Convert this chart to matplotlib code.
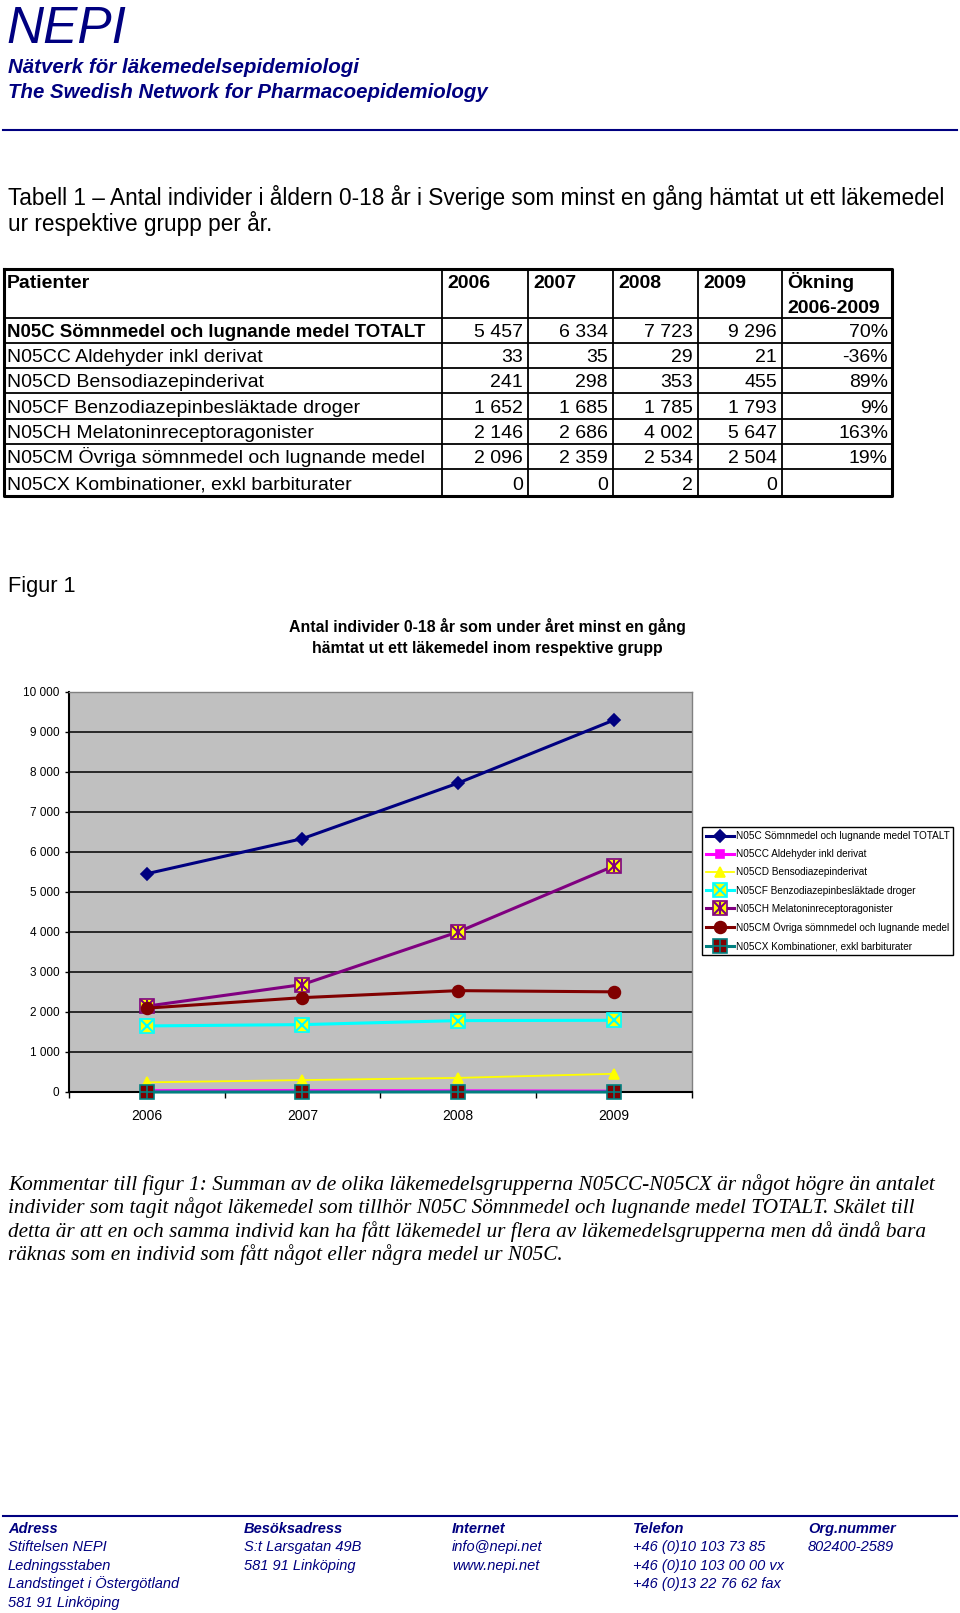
import numpy as np
import matplotlib
matplotlib.use("Agg")
import matplotlib.pyplot as plt
from matplotlib.ticker import FuncFormatter

# ── Data ──────────────────────────────────────────────────────────────────────
years = ["2006", "2007", "2008", "2009"]

groups = [
    "N05C Sömnmedel och lugnande medel TOTALT",
    "N05CC Aldehyder inkl derivat",
    "N05CD Bensodiazepinderivat",
    "N05CF Benzodiazepinbesläktade droger",
    "N05CH Melatoninreceptoragonister",
    "N05CM Övriga sömnmedel och lugnande medel",
    "N05CX Kombinationer, exkl barbiturater",
]
n05c  = [5457, 6334, 7723, 9296]
n05cc = [33, 35, 29, 21]
n05cd = [241, 298, 353, 455]
n05cf = [1652, 1685, 1785, 1793]
n05ch = [2146, 2686, 4002, 5647]
n05cm = [2096, 2359, 2534, 2504]
n05cx = [0, 0, 2, 0]
series = [n05c, n05cc, n05cd, n05cf, n05ch, n05cm, n05cx]

yticks = list(range(0, 10001, 1000))

comment_lines = [
    "Kommentar till figur 1: Summan av de olika läkemedelsgrupperna N05CC-N05CX är något högre än antalet",
    "individer som tagit något läkemedel som tillhör N05C Sömnmedel och lugnande medel TOTALT. Skälet till",
    "detta är att en och samma individ kan ha fått läkemedel ur flera av läkemedelsgrupperna men då ändå bara",
    "räknas som en individ som fått något eller några medel ur N05C.",
]

footer = [
    ("Adress", ["Stiftelsen NEPI", "Ledningsstaben", "Landstinget i Östergötland", "581 91 Linköping"]),
    ("Besöksadress", ["S:t Larsgatan 49B", "581 91 Linköping"]),
    ("Internet", ["info@nepi.net", "www.nepi.net"]),
    ("Telefon", ["+46 (0)10 103 73 85", "+46 (0)10 103 00 00 vx", "+46 (0)13 22 76 62 fax"]),
    ("Org.nummer", ["802400-2589"]),
]

# ── Setup ─────────────────────────────────────────────────────────────────────
W, H = 960, 1613
NAVY = "#000080"
SANS = "Liberation Sans"
SERIF = "Liberation Serif"


def fmt(v):
    return f"{v:,}".replace(",", " ")


fig = plt.figure(figsize=(W / 100, H / 100), dpi=100)

# page overlay in pixel coordinates (y downwards)
pg = fig.add_axes([0, 0, 1, 1])
pg.set_xlim(0, W)
pg.set_ylim(H, 0)
pg.axis("off")


def txt(x, y, s, size, **kw):
    kw.setdefault("family", SANS)
    kw.setdefault("va", "baseline")
    pg.text(x, y, s, fontsize=size, **kw)


# ── Header ────────────────────────────────────────────────────────────────────
txt(6, 43, "NEPI", 37, style="italic", color=NAVY)
txt(8, 73, "Nätverk för läkemedelsepidemiologi", 14.8, style="italic",
    weight="bold", color=NAVY)
txt(8, 98, "The Swedish Network for Pharmacoepidemiology", 14.7, style="italic",
    weight="bold", color=NAVY)
pg.plot([3, 957], [130, 130], color=NAVY, lw=1.5)

txt(8, 205, "Tabell 1 \u2013 Antal individer i åldern 0-18 år i Sverige som minst en gång "
    "hämtat ut ett läkemedel", 16.3)
txt(8, 231, "ur respektive grupp per år.", 16.3)

# ── Table ─────────────────────────────────────────────────────────────────────
col_x = [4, 442, 528, 613, 698, 782, 892]
row_y = [269, 318, 343, 368, 393, 419, 444, 469, 496]

for xx in col_x[1:-1]:
    pg.plot([xx, xx], [row_y[0], row_y[-1]], color="black", lw=1.3)
for yy in row_y[1:-1]:
    pg.plot([col_x[0], col_x[-1]], [yy, yy], color="black", lw=1.3)
pg.plot([col_x[0], col_x[-1], col_x[-1], col_x[0], col_x[0]],
        [row_y[0], row_y[0], row_y[-1], row_y[-1], row_y[0]],
        color="black", lw=2.2)

TF = 14
txt(7, 288, "Patienter", TF, weight="bold")
for i, yr in enumerate(years):
    txt(col_x[i + 1] + 5, 288, yr, TF, weight="bold")
txt(col_x[5] + 5, 288, "Ökning", TF, weight="bold")
txt(col_x[5] + 5, 313, f"{years[0]}-{years[-1]}", TF, weight="bold")

for r, (name, vals) in enumerate(zip(groups, series)):
    base = row_y[r + 2] - 6
    if r == 0:
        txt(7, base, name, 13.4, weight="bold")
    else:
        txt(7, base, name, TF)
    for i, v in enumerate(vals):
        txt(col_x[i + 2] - 5, base, fmt(v), TF, ha="right")
    if vals[0] > 0:
        pct = round((vals[-1] / vals[0] - 1) * 100)
        txt(col_x[-1] - 4, base, f"{pct}%", TF, ha="right")

# ── Figure 1 ──────────────────────────────────────────────────────────────────
txt(8, 592, "Figur 1", 15.7)
txt(487, 632, "Antal individer 0-18 år som under året minst en gång", 11.4,
    weight="bold", ha="center")
txt(487, 653, "hämtat ut ett läkemedel inom respektive grupp", 11.4,
    weight="bold", ha="center")

ax = fig.add_axes([69 / W, 1 - 1092 / H, 622.5 / W, 400 / H])
ax.set_facecolor("#c0c0c0")
ax.set_xlim(0, 4)
ax.set_ylim(0, 10000)
x = np.arange(len(years)) + 0.5

for v in yticks[1:-1]:
    ax.axhline(v, color="black", lw=1.1, zorder=0.5)

styles = [
    dict(color=NAVY, marker="D", ms=6.5, lw=2.2),
    dict(color="#ff00ff", marker="s", ms=6, lw=2.2),
    dict(color="#ffff00", marker="^", ms=7, lw=1.3),
    dict(color="#00ffff", marker="s", ms=10, lw=2.2, mfc="#ffff00", mec="#00ffff"),
    dict(color="#800080", marker="s", ms=10, lw=2.2, mfc="#ffff00", mec="#800080"),
    dict(color="#800000", marker="o", ms=8.5, lw=2.2),
    dict(color="#008080", marker="s", ms=10, lw=2.2, mfc="#800000", mec="#008080"),
]
overlays = [
    [], [], [],
    [dict(marker="x", ms=8, mew=1.5, color="#00ffff")],
    [dict(marker="x", ms=8, mew=1.5, color="#800080"),
     dict(marker="|", ms=9, mew=1.5, color="#800080")],
    [],
    [dict(marker="+", ms=10, mew=1.2, color="#008080")],
]

handles = []
for k, (vals, st, ov) in enumerate(zip(series, styles, overlays)):
    z = 3 + k
    (ln,) = ax.plot(x, vals, mew=1.2, zorder=z, clip_on=False, **st)
    parts = [ln]
    for o in ov:
        (m,) = ax.plot(x, vals, ls="none", zorder=z + 0.5, clip_on=False, **o)
        parts.append(m)
    handles.append(tuple(parts) if len(parts) > 1 else ln)

ax.set_yticks(yticks)
ax.yaxis.set_major_formatter(FuncFormatter(lambda v, p: fmt(int(v))))
ax.tick_params(axis="y", direction="out", length=3, width=1, pad=4,
               labelsize=8.5, color="black")
ax.set_xticks(x)
ax.set_xticklabels(years)
ax.set_xticks([0, 1, 2, 3, 4], minor=True)
ax.tick_params(axis="x", which="major", length=0, pad=12, labelsize=10)
ax.tick_params(axis="x", which="minor", direction="out", length=4, width=1)
for lab in ax.get_xticklabels() + ax.get_yticklabels():
    lab.set_family(SANS)

for s in ("left", "bottom"):
    ax.spines[s].set_color("black")
    ax.spines[s].set_linewidth(1.5)
for s in ("top", "right"):
    ax.spines[s].set_color("#808080")
    ax.spines[s].set_linewidth(1)

fig.legend(handles, groups, loc="upper left",
           bbox_to_anchor=(702 / W, 1 - 827 / H), bbox_transform=fig.transFigure,
           prop=dict(family=SANS, size=7.2), frameon=True, fancybox=False,
           edgecolor="black", framealpha=1, borderaxespad=0, borderpad=0.4,
           handlelength=2.8, handletextpad=0.15, labelspacing=0.82)

# ── Comment ───────────────────────────────────────────────────────────────────
for i, line in enumerate(comment_lines):
    txt(8, 1190 + i * 23.4, line, 15.3, family=SERIF, style="italic")

# ── Footer ────────────────────────────────────────────────────────────────────
pg.plot([3, 957], [1516, 1516], color=NAVY, lw=1.5)
foot_x = [8, 244, 452, 633, 808]
foot_y = [1533, 1551, 1570, 1588, 1607]
for fx, (head, rows) in zip(foot_x, footer):
    txt(fx, foot_y[0], head, 10.5, style="italic", weight="bold", color=NAVY)
    for j, r in enumerate(rows):
        txt(fx, foot_y[j + 1], r, 10.5, style="italic", color=NAVY)

fig.savefig("out.png", dpi=100)
